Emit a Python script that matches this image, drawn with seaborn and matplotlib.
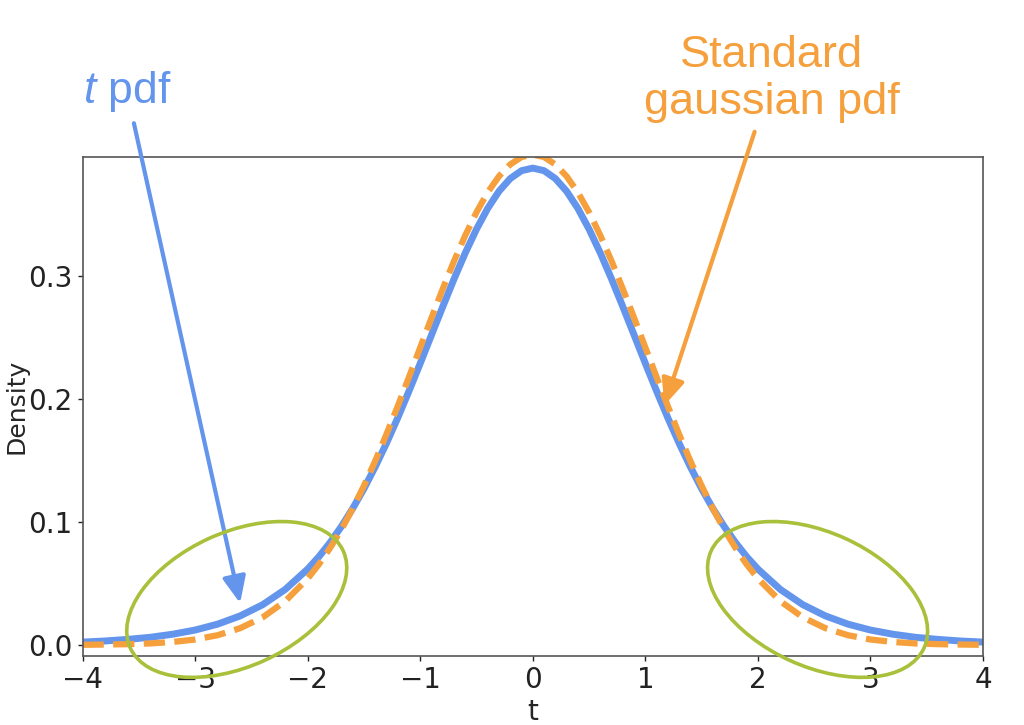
import matplotlib
matplotlib.use("Agg")
import matplotlib.pyplot as plt
import matplotlib.transforms as mtransforms
from matplotlib.patches import Ellipse
import seaborn as sns

# Density values (finer sampling near the peak)
t_values = [-4.0, -3.8, -3.6, -3.4, -3.2, -3.0, -2.8, -2.6, -2.4, -2.2,
            -2.0, -1.9, -1.8, -1.7, -1.6, -1.5, -1.4, -1.3, -1.2, -1.1,
            -1.0, -0.9, -0.8, -0.7, -0.6, -0.5, -0.4, -0.3, -0.2, -0.1,
            0.0, 0.1, 0.2, 0.3, 0.4, 0.5, 0.6, 0.7, 0.8, 0.9,
            1.0, 1.1, 1.2, 1.3, 1.4, 1.5, 1.6, 1.7, 1.8, 1.9,
            2.0, 2.2, 2.4, 2.6, 2.8, 3.0, 3.2, 3.4, 3.6, 3.8, 4.0]
t_pdf = [0.0023, 0.0032, 0.0045, 0.0062, 0.0087, 0.0121, 0.0169, 0.0236, 0.0327, 0.0451,
         0.0617, 0.0718, 0.0834, 0.0964, 0.1110, 0.1271, 0.1449, 0.1641, 0.1847, 0.2065,
         0.2291, 0.2522, 0.2752, 0.2977, 0.3189, 0.3383, 0.3553, 0.3692, 0.3795, 0.3859,
         0.3880, 0.3859, 0.3795, 0.3692, 0.3553, 0.3383, 0.3189, 0.2977, 0.2752, 0.2522,
         0.2291, 0.2065, 0.1847, 0.1641, 0.1449, 0.1271, 0.1110, 0.0964, 0.0834, 0.0718,
         0.0617, 0.0451, 0.0327, 0.0236, 0.0169, 0.0121, 0.0087, 0.0062, 0.0045, 0.0032, 0.0023]
gauss_pdf = [0.0001, 0.0003, 0.0006, 0.0012, 0.0024, 0.0044, 0.0079, 0.0136, 0.0224, 0.0355,
             0.0540, 0.0656, 0.0790, 0.0940, 0.1109, 0.1295, 0.1497, 0.1714, 0.1942, 0.2179,
             0.2420, 0.2661, 0.2897, 0.3123, 0.3332, 0.3521, 0.3683, 0.3814, 0.3910, 0.3970,
             0.3989, 0.3970, 0.3910, 0.3814, 0.3683, 0.3521, 0.3332, 0.3123, 0.2897, 0.2661,
             0.2420, 0.2179, 0.1942, 0.1714, 0.1497, 0.1295, 0.1109, 0.0940, 0.0790, 0.0656,
             0.0540, 0.0355, 0.0224, 0.0136, 0.0079, 0.0044, 0.0024, 0.0012, 0.0006, 0.0003, 0.0001]

x_ticks = [-4, -3, -2, -1, 0, 1, 2, 3, 4]
y_ticks = [0.0, 0.1, 0.2, 0.3]

BLUE = "#6495ED"
ORANGE = "#F5A03C"
GREEN = "#A8C03A"

sns.set_style("ticks")
plt.rcParams["font.family"] = ["DejaVu Sans"]
plt.rcParams["mathtext.fontset"] = "custom"
plt.rcParams["mathtext.it"] = "Liberation Sans:italic"
plt.rcParams["mathtext.rm"] = "Liberation Sans"

fig = plt.figure(figsize=(10.24, 7.25), dpi=100)
ax = fig.add_axes([0.0806, 0.0952, 0.8794, 0.6882])

sns.lineplot(x=t_values, y=t_pdf, ax=ax, color=BLUE, linewidth=5,
             solid_joinstyle="round", solid_capstyle="round")
sns.lineplot(x=t_values, y=gauss_pdf, ax=ax, color=ORANGE, linewidth=4.5,
             linestyle=(0, (3.4, 1.5)))

ax.set_xlim(-4, 4)
ax.set_ylim(-0.009, 0.397)
ax.set_xticks(x_ticks)
ax.set_yticks(y_ticks)
ax.tick_params(labelsize=20, length=3.5, width=1, colors="#222222")
for side in ["top", "right", "bottom", "left"]:
    ax.spines[side].set_visible(True)
    ax.spines[side].set_color("#555555")
    ax.spines[side].set_linewidth(1.2)

ax.set_xlabel("t", fontsize=20)
ax.set_ylabel("Density", fontsize=18)
ax.xaxis.set_label_coords(0.5, -0.085)
ax.yaxis.set_label_coords(-0.0605, 0.5)

# Annotations
ax.annotate("$t$ pdf", xy=(-2.6, 0.034), xycoords="data",
            xytext=(127, 633), textcoords="figure pixels",
            ha="center", va="center", fontsize=32, color=BLUE,
            family="Liberation Sans",
            arrowprops=dict(arrowstyle="-|>,head_length=0.5,head_width=0.22",
                            color=BLUE, lw=3, mutation_scale=32,
                            shrinkA=4, shrinkB=0),
            annotation_clip=False)
ax.annotate("Standard\ngaussian pdf", xy=(1.17, 0.195), xycoords="data",
            xytext=(772, 646), textcoords="figure pixels",
            ha="center", va="center", multialignment="center",
            fontsize=32.5, color=ORANGE, family="Liberation Sans",
            linespacing=1.2,
            arrowprops=dict(arrowstyle="-|>,head_length=0.5,head_width=0.22",
                            color=ORANGE, lw=3, mutation_scale=32,
                            shrinkA=4, shrinkB=0),
            annotation_clip=False)

# Tail highlight ellipses (size in inches, centre in data)
for xc, yc, angle in [(-2.63, 0.037, 24.5), (2.53, 0.037, -24.5)]:
    trans = fig.dpi_scale_trans + mtransforms.ScaledTranslation(xc, yc, ax.transData)
    ell = Ellipse((0, 0), 2.34, 1.34, angle=angle, transform=trans,
                  fill=False, edgecolor=GREEN, linewidth=2.6, clip_on=False, zorder=5)
    ax.add_patch(ell)

fig.savefig("out.png", dpi=100)
